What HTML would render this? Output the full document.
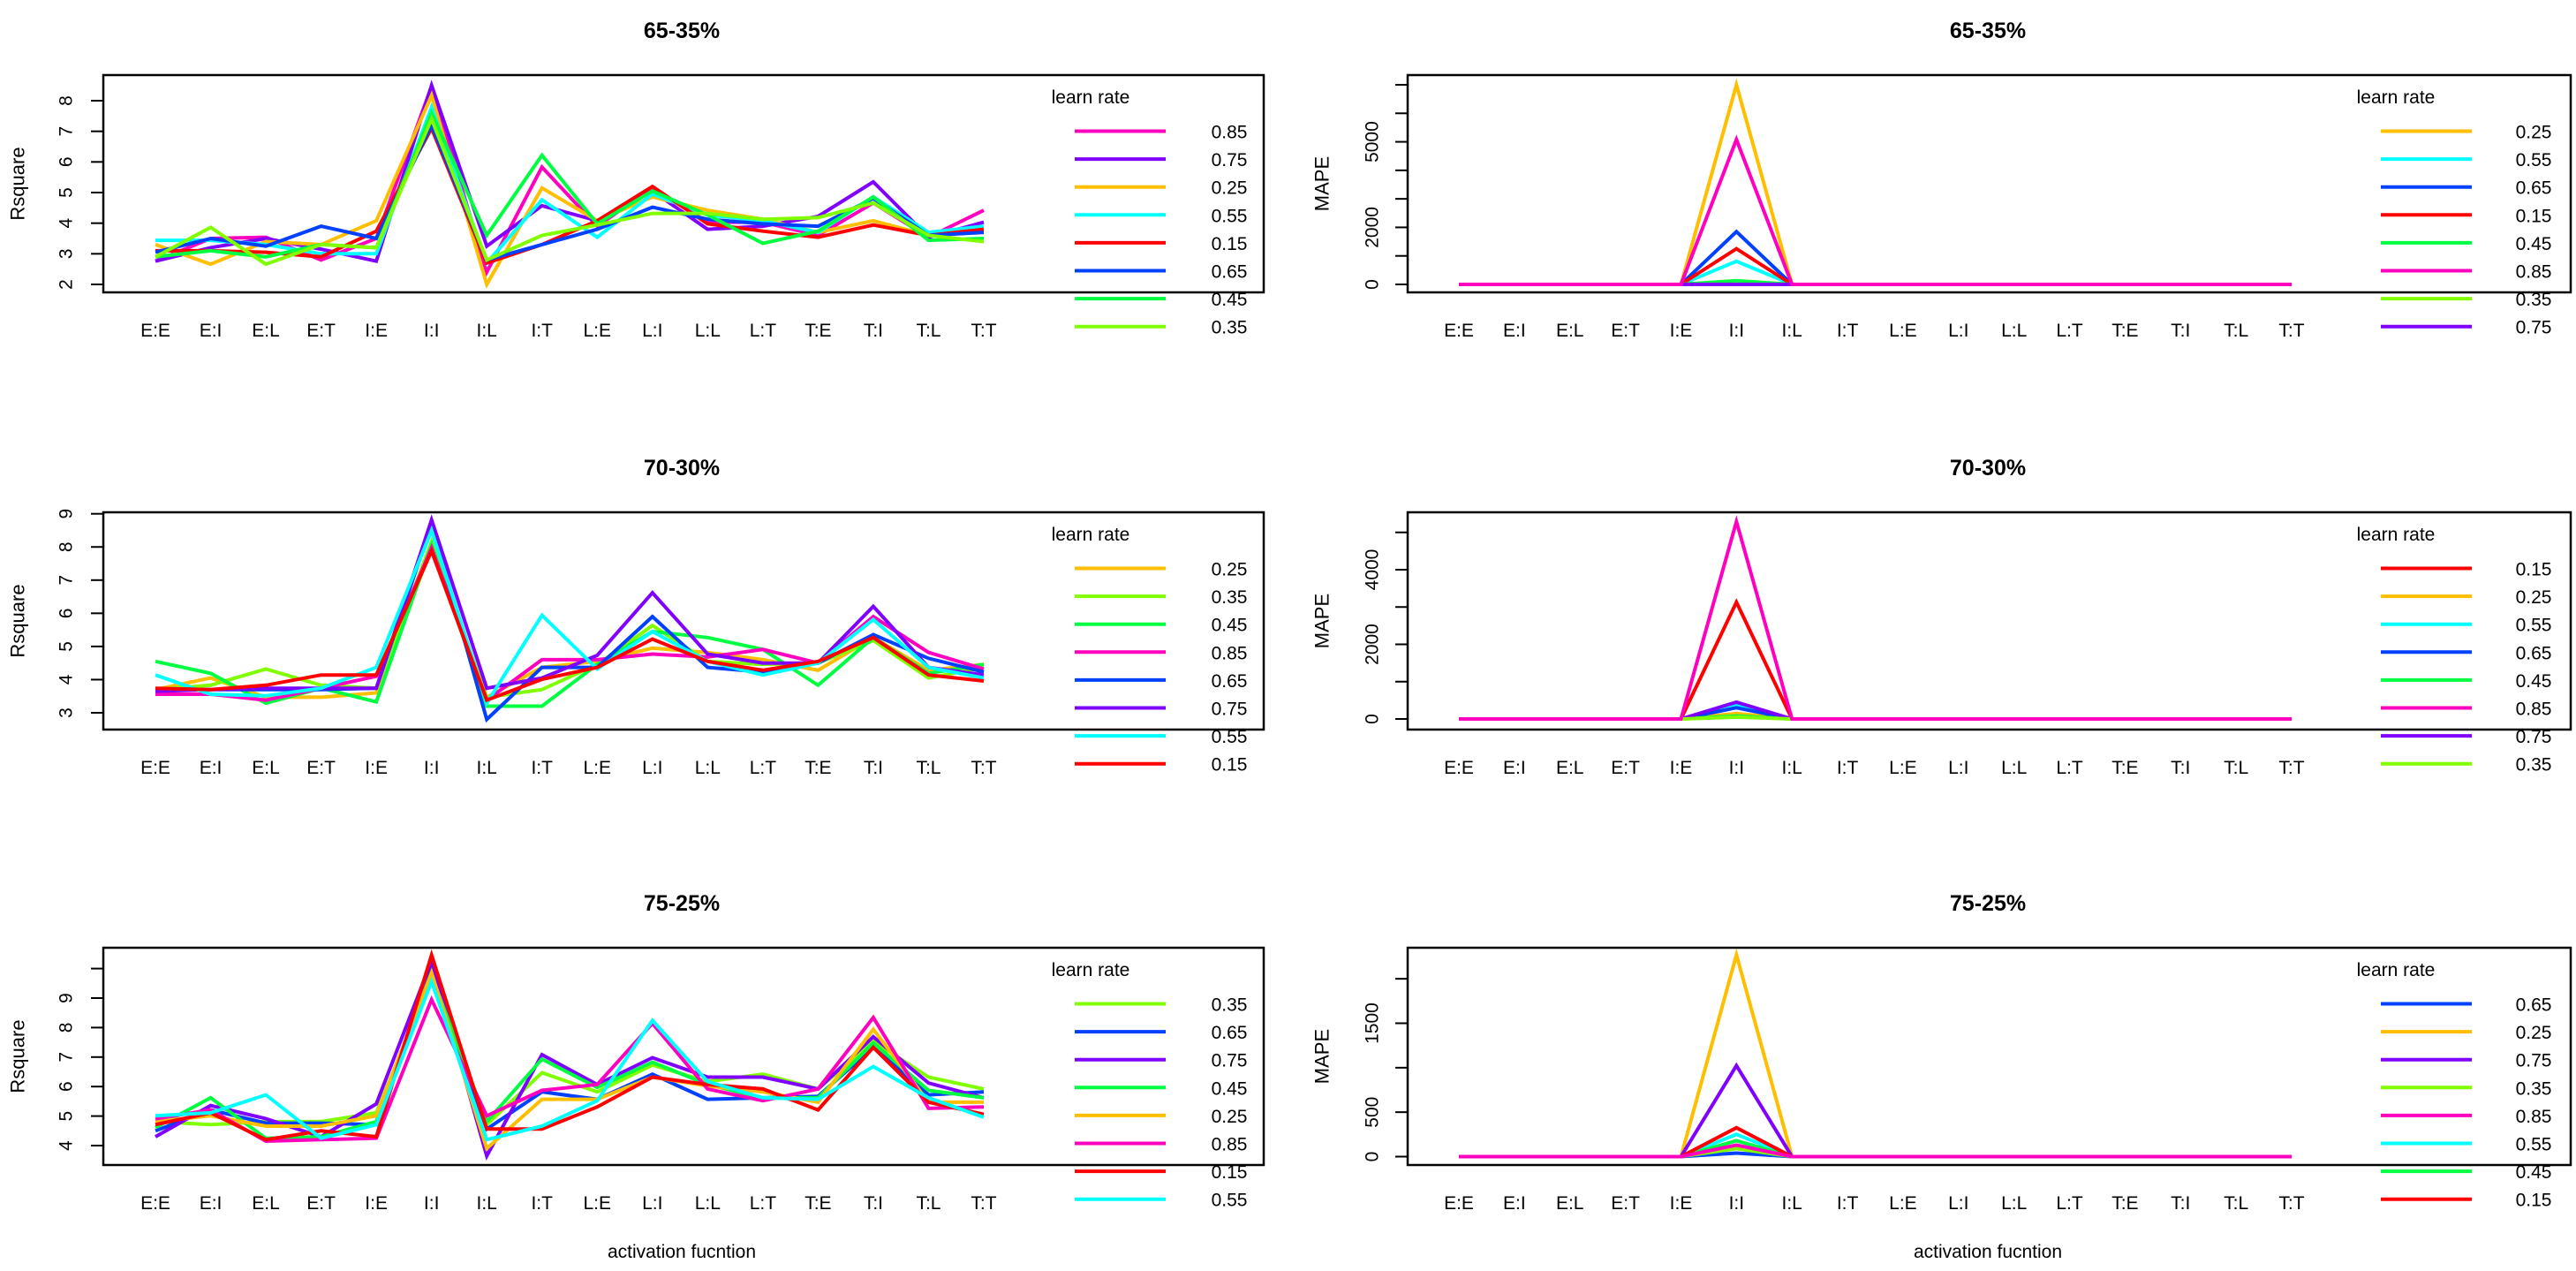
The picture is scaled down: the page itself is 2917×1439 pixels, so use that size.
<!DOCTYPE html>
<html><head><meta charset="utf-8"><style>
body{margin:0;background:#fff}
svg{display:block;font-family:"Liberation Sans",Arial,sans-serif}
</style></head><body>
<svg id="chart" width="2917" height="1439" viewBox="0 0 2917 1439" xmlns="http://www.w3.org/2000/svg"></svg>
<script>
const categories = ["E:E","E:I","E:L","E:T","I:E","I:I","I:L","I:T","L:E","L:I","L:L","L:T","T:E","T:I","T:L","T:T"];
const rateColors = {"0.15":"#FF0000","0.25":"#FFBF00","0.35":"#80FF00","0.45":"#00FF40","0.55":"#00FFFF","0.65":"#0040FF","0.75":"#8000FF","0.85":"#FF00BF"};

// Panel 1: Rsquare 65-35%
const r1Rates = ["0.85","0.75","0.25","0.55","0.15","0.65","0.45","0.35"];
const r1Values = [
 [2.76,3.5,3.54,2.8,3.5,8.47,2.4,5.83,3.9,5.15,4.03,4.03,3.6,4.66,3.54,4.42],
 [2.76,3.2,3.5,3.15,2.76,8.5,3.25,4.57,4.08,5.05,3.8,3.9,4.22,5.35,3.54,4.03],
 [3.3,2.66,3.4,3.3,4.08,8.17,2.0,5.15,4.08,4.86,4.42,4.13,3.7,4.08,3.6,3.7],
 [3.44,3.44,3.3,3.0,3.0,7.78,2.7,4.76,3.54,4.95,4.27,4.08,3.7,4.86,3.7,3.9],
 [3.1,3.1,3.05,2.9,3.74,7.1,2.7,3.3,4.08,5.2,3.98,3.74,3.54,3.94,3.6,3.8],
 [3.05,3.5,3.25,3.9,3.5,7.2,2.8,3.3,3.8,4.52,4.13,3.98,3.9,4.81,3.6,3.7],
 [2.9,3.1,2.9,3.3,3.2,7.6,3.6,6.22,3.98,5.05,4.27,3.34,3.74,4.86,3.44,3.5],
 [2.9,3.86,2.66,3.3,3.2,7.4,2.8,3.6,3.94,4.32,4.32,4.13,4.18,4.66,3.6,3.4]];
const r1Ticks = [2,3,4,5,6,7,8];
const r1TickLabels = ["2","3","4","5","6","7","8"];

// Panel 2: Rsquare 70-30%
const r2Rates = ["0.25","0.35","0.45","0.85","0.65","0.75","0.55","0.15"];
const r2Values = [
 [3.7,4.05,3.47,3.47,3.6,7.97,3.47,4.37,4.55,4.95,4.82,4.6,4.28,5.27,4.28,4.46],
 [3.7,3.83,4.32,3.83,3.74,8.15,3.47,3.7,4.46,5.63,4.55,4.46,4.5,5.18,4.05,4.37],
 [4.55,4.19,3.29,3.74,3.33,8.06,3.2,3.2,4.46,5.45,5.27,4.91,3.83,5.27,4.19,4.46],
 [3.56,3.56,3.38,3.74,4.1,7.97,3.38,4.6,4.6,4.77,4.68,4.91,4.5,5.9,4.82,4.32],
 [3.7,3.7,3.7,3.7,3.74,8.69,2.8,4.37,4.37,5.9,4.37,4.23,4.5,5.36,4.64,4.23],
 [3.65,3.7,3.74,3.74,3.74,8.82,3.74,4.05,4.73,6.62,4.77,4.5,4.5,6.21,4.37,4.14],
 [4.14,3.56,3.51,3.74,4.37,8.5,3.29,5.94,4.32,5.45,4.55,4.14,4.5,5.81,4.37,4.05],
 [3.74,3.7,3.83,4.14,4.14,7.88,3.38,4.01,4.37,5.22,4.55,4.28,4.55,5.27,4.14,3.96]];
const r2Ticks = [3,4,5,6,7,8,9];
const r2TickLabels = ["3","4","5","6","7","8","9"];

// Panel 3: Rsquare 75-25%
const r3Rates = ["0.35","0.65","0.75","0.45","0.25","0.85","0.15","0.55"];
const r3Values = [
 [4.81,4.71,4.81,4.81,5.11,9.66,4.71,6.47,5.82,6.73,6.17,6.42,5.92,7.54,6.32,5.92],
 [4.5,5.21,4.76,4.76,4.71,9.96,4.56,5.82,5.57,6.42,5.57,5.62,5.67,7.33,5.72,5.82],
 [4.3,5.36,4.91,4.3,5.41,10.26,3.65,7.08,6.07,6.98,6.32,6.32,5.92,7.69,6.12,5.62],
 [4.61,5.62,4.25,4.3,4.81,9.76,4.81,6.93,5.97,6.83,6.07,5.62,5.62,7.48,5.87,5.62],
 [4.81,5.01,4.66,4.66,5.01,9.86,3.9,5.57,5.57,6.32,6.02,5.82,5.47,7.94,5.47,5.47],
 [4.91,5.21,4.15,4.2,4.25,8.95,5.01,5.87,6.07,8.14,5.92,5.52,5.92,8.34,5.26,5.31],
 [4.71,5.11,4.2,4.5,4.3,10.46,4.56,4.56,5.31,6.32,6.07,5.92,5.21,7.33,5.47,5.06],
 [5.01,5.11,5.72,4.25,4.71,9.56,4.2,4.66,5.52,8.24,6.17,5.62,5.57,6.68,5.62,4.96]];
const r3Ticks = [4,5,6,7,8,9,10];
const r3TickLabels = ["4","5","6","7","8","9",""];

// Panel 4: MAPE 65-35% (peak at I:I, others 0)
const m1Rates = ["0.25","0.55","0.65","0.15","0.45","0.85","0.35","0.75"];
const m1Peaks = [7000,810,1850,1250,130,5080,0,0];
const m1Ticks = [0,1000,2000,3000,4000,5000,6000,7000];
const m1TickLabels = ["0","","2000","","","5000","",""];

// Panel 5: MAPE 70-30%
const m2Rates = ["0.15","0.25","0.55","0.65","0.45","0.85","0.75","0.35"];
const m2Peaks = [3130,150,390,300,80,5290,450,50];
const m2Ticks = [0,1000,2000,3000,4000,5000];
const m2TickLabels = ["0","","2000","","4000",""];

// Panel 6: MAPE 75-25%
const m3Rates = ["0.65","0.25","0.75","0.35","0.85","0.55","0.45","0.15"];
const m3Peaks = [40,2270,1023,90,130,250,180,325];
const m3Ticks = [0,500,1000,1500,2000];
const m3TickLabels = ["0","500","","1500",""];

const peakIndex = 5;
function peakSeries(p){ return categories.map((c,i)=> i===peakIndex ? p : 0); }

const NS = "http://www.w3.org/2000/svg";
const svg = document.getElementById("chart");
function mk(tag, attrs, parent){
  const e = document.createElementNS(NS, tag);
  for (const k in attrs) e.setAttribute(k, attrs[k]);
  (parent||svg).appendChild(e);
  return e;
}

const rowTops = [85, 580, 1073];
const boxH = 246;
const leftGeom = {bx0:117, bx1:1431, cx0:176, cx1:1114, tickLblX:75, ytitleX:20, titleX:772,
  legLine0:1217, legLine1:1320, legLbl:1392, legTitle:1235};
const rightGeom = {bx0:1594, bx1:2911, cx0:1652, cx1:2595, tickLblX:1554, ytitleX:1497, titleX:2251,
  legLine0:2696, legLine1:2799, legLbl:2869, legTitle:2713};

const panels = [
  {key:"rsq-65-35", title:"65-35%", ytitle:"Rsquare", g:leftGeom, row:0, rates:r1Rates, series:r1Values, ticks:r1Ticks, labels:r1TickLabels, ya:[2,237], yb:[8,29], topLast:false},
  {key:"rsq-70-30", title:"70-30%", ytitle:"Rsquare", g:leftGeom, row:1, rates:r2Rates, series:r2Values, ticks:r2Ticks, labels:r2TickLabels, ya:[3,227], yb:[9,1.7], topLast:false},
  {key:"rsq-75-25", title:"75-25%", ytitle:"Rsquare", g:leftGeom, row:2, rates:r3Rates, series:r3Values, ticks:r3Ticks, labels:r3TickLabels, ya:[4,224], yb:[9,57], topLast:false},
  {key:"mape-65-35", title:"65-35%", ytitle:"MAPE", g:rightGeom, row:0, rates:m1Rates, series:m1Peaks.map(peakSeries), ticks:m1Ticks, labels:m1TickLabels, ya:[0,237], yb:[7000,11], topLast:true},
  {key:"mape-70-30", title:"70-30%", ytitle:"MAPE", g:rightGeom, row:1, rates:m2Rates, series:m2Peaks.map(peakSeries), ticks:m2Ticks, labels:m2TickLabels, ya:[0,234], yb:[4000,65], topLast:true},
  {key:"mape-75-25", title:"75-25%", ytitle:"MAPE", g:rightGeom, row:2, rates:m3Rates, series:m3Peaks.map(peakSeries), ticks:m3Ticks, labels:m3TickLabels, ya:[0,236.5], yb:[1500,85.5], topLast:true}
];

panels.forEach(p=>{
  const g = p.g, top = rowTops[p.row];
  const grp = mk("g", {});
  
  
  const xS = i => g.cx0 + (g.cx1 - g.cx0) * i / (categories.length - 1);
  const yS = v => top + p.ya[1] + (v - p.ya[0]) * (p.yb[1] - p.ya[1]) / (p.yb[0] - p.ya[0]);

  const t = mk("text", {x:g.titleX, y:top-42, "text-anchor":"middle", "font-size":25, "font-weight":"bold"}, grp);
  t.textContent = p.title;
  
  

  // series draw order (0.85 on top for MAPE panels)
  let order = p.rates.map((r,i)=>i);
  if (p.topLast) {
    const mi = p.rates.indexOf("0.85");
    order = order.filter(i=>i!==mi).concat([mi]);
  }
  order.forEach(si=>{
    const vals = p.series[si];
    const pts = vals.map((v,i)=> xS(i).toFixed(1)+","+yS(v).toFixed(1)).join(" ");
    const pl = mk("polyline", {points:pts, fill:"none", stroke:rateColors[p.rates[si]], "stroke-width":4, "stroke-linejoin":"miter"}, grp);
    
    
  });

  // box
  const box = mk("rect", {x:g.bx0, y:top, width:g.bx1-g.bx0, height:boxH, fill:"none", stroke:"#000", "stroke-width":2.5}, grp);
  
  

  // y ticks
  p.ticks.forEach((tv, ti)=>{
    const y = yS(tv);
    const tk = mk("line", {x1:g.bx0-14, x2:g.bx0, y1:y, y2:y, stroke:"#000", "stroke-width":2}, grp);
    
    
    if (p.labels[ti] !== "") {
      const tl = mk("text", {x:g.tickLblX, y:y, "text-anchor":"middle", "dominant-baseline":"central", "font-size":21, transform:`rotate(-90 ${g.tickLblX} ${y})`}, grp);
      tl.textContent = p.labels[ti];
      
      
    }
  });

  // x labels
  categories.forEach((c,i)=>{
    const xl = mk("text", {x:xS(i), y:top+296, "text-anchor":"middle", "font-size":21}, grp);
    xl.textContent = c;
    
    
  });

  // y title
  const yc = top + 123;
  const yt = mk("text", {x:g.ytitleX, y:yc, "text-anchor":"middle", "dominant-baseline":"central", "font-size":22, transform:`rotate(-90 ${g.ytitleX} ${yc})`}, grp);
  yt.textContent = p.ytitle;
  
  

  // legend
  const lt = mk("text", {x:g.legTitle, y:top+32, "text-anchor":"middle", "font-size":21}, grp);
  lt.textContent = "learn rate";
  
  
  p.rates.forEach((r, ri)=>{
    const ly = top + 63.5 + 31.6 * ri;
    const ll = mk("line", {x1:g.legLine0, x2:g.legLine1, y1:ly, y2:ly, stroke:rateColors[r], "stroke-width":4}, grp);
    
    
    const lb = mk("text", {x:g.legLbl, y:ly+8, "text-anchor":"middle", "font-size":21}, grp);
    lb.textContent = r;
    
    
  });
});

[772, 2251].forEach(x=>{
  const xt = mk("text", {x:x, y:1424, "text-anchor":"middle", "font-size":21});
  xt.textContent = "activation fucntion";
  
  
});
</script>
</body></html>
